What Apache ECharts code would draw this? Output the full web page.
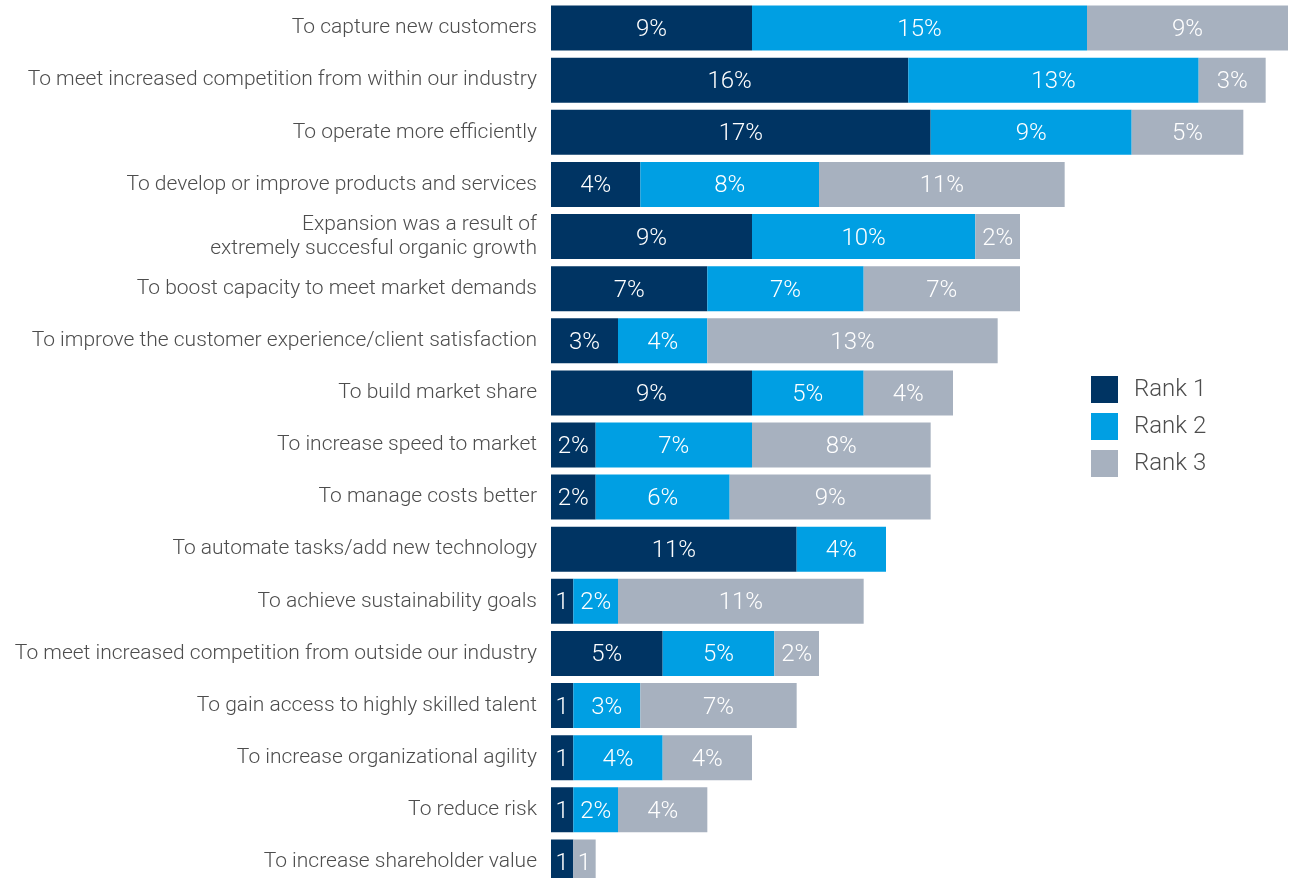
<!DOCTYPE html>
<html><head><meta charset="utf-8">
<script src="https://cdn.jsdelivr.net/npm/echarts@6/dist/echarts.min.js"></script>
<style>html,body{margin:0;padding:0;background:#fff;overflow:hidden}#c{width:1289px;height:900px}</style>
</head><body><div id="c"></div>
<script>
var categories = [
  'To capture new customers',
  'To meet increased competition from within our industry',
  'To operate more efficiently',
  'To develop or improve products and services',
  'Expansion was a result of\nextremely succesful organic growth',
  'To boost capacity to meet market demands',
  'To improve the customer experience/client satisfaction',
  'To build market share',
  'To increase speed to market',
  'To manage costs better',
  'To automate tasks/add new technology',
  'To achieve sustainability goals',
  'To meet increased competition from outside our industry',
  'To gain access to highly skilled talent',
  'To increase organizational agility',
  'To reduce risk',
  'To increase shareholder value'
];
var rank1 = [9, 16, 17, 4, 9, 7, 3, 9, 2, 2, 11, 1, 5, 1, 1, 1, 1];
var rank2 = [15, 13, 9, 8, 10, 7, 4, 5, 7, 6, 4, 2, 5, 3, 4, 2, 0];
var rank3 = [9, 3, 5, 11, 2, 7, 13, 4, 8, 9, 0, 11, 2, 7, 4, 4, 1];

var chart = echarts.init(document.getElementById('c'));
function lbl(p){ if(!p.value) return ''; return p.value === 1 ? '1' : p.value + '%'; }
var labelStyle = {show:true, position:'inside', formatter:lbl, color:'#fff', fontSize:24, fontFamily:'Roboto', fontWeight:300, offset:[0,2]};
function mk(name, data, color){
  return {name:name, type:'bar', stack:'s', data:data, barWidth:45,
    itemStyle:{color:color}, label:labelStyle, emphasis:{disabled:true}};
}
chart.setOption({
  animation:false,
  grid:{left:551, width:737, top:2, height:886, containLabel:false},
  legend:{orient:'vertical', left:1086, top:371, itemWidth:27, itemHeight:27, itemGap:10,
    icon:'rect', textStyle:{fontSize:24, lineHeight:27, color:'#4d4d4d', fontFamily:'Roboto', fontWeight:300, padding:[0,0,0,11]},
    data:['Rank 1','Rank 2','Rank 3']},
  xAxis:{type:'value', min:0, max:33, show:false},
  yAxis:{type:'category', data:categories, inverse:true,
    axisLine:{show:false}, axisTick:{show:false},
    axisLabel:{margin:14, fontSize:21, color:'#4d4d4d', fontFamily:'Roboto', fontWeight:300, lineHeight:24}},
  series:[mk('Rank 1', rank1, '#003463'), mk('Rank 2', rank2, '#009FE3'), mk('Rank 3', rank3, '#A7B1BF')]
});
</script></body></html>
